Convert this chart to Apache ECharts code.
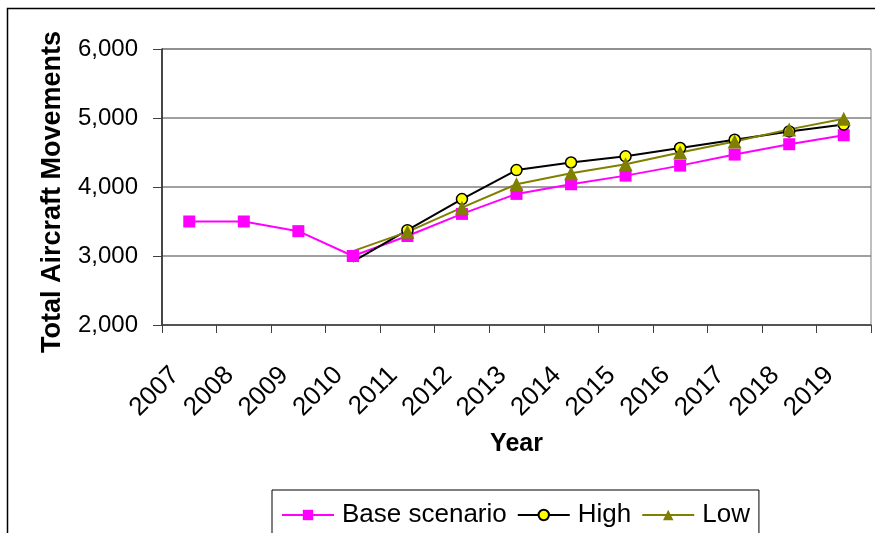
<!DOCTYPE html>
<html>
<head>
<meta charset="utf-8">
<script src="https://cdn.jsdelivr.net/npm/echarts@6/dist/echarts.min.js"></script>
<style>
  html, body { margin: 0; padding: 0; background: #ffffff; }
  #chart { width: 875px; height: 533px; }
</style>
</head>
<body>
<div id="chart"></div>
<script>
// Forecast of total aircraft movements per year
const years = ['2007', '2008', '2009', '2010', '2011', '2012', '2013',
               '2014', '2015', '2016', '2017', '2018', '2019'];
const baseScenario = [3500, 3500, 3360, 3000, 3290, 3610, 3900, 4040, 4165, 4310, 4470, 4620, 4750];
const highScenario = ['-', '-', '-', 2920, 3375, 3825, 4245, 4355, 4445, 4565, 4685, 4805, 4905];
const lowScenario  = ['-', '-', '-', 3070, 3350, 3700, 4040, 4200, 4330, 4500, 4660, 4835, 4990];
const yMin = 2000, yMax = 6000, yStep = 1000;

const FONT = "'Liberation Sans', Arial, sans-serif";

// The alternative scenarios branch off the base line; their first point has no marker
const branchIndex = highScenario.findIndex(v => v !== '-');
const withoutFirstMarker = arr => arr.map((v, i) => i === branchIndex ? { value: v, symbol: 'none' } : v);
// Base marker at the branch point is painted above the branching lines
const branchMarker = baseScenario.map((v, i) => i === branchIndex ? v : '-');

const fmt = v => String(v).replace(/\B(?=(\d{3})+(?!\d))/g, ',');

const chart = echarts.init(document.getElementById('chart'), null, { renderer: 'canvas' });

const baseStyle = {
  symbol: 'rect', symbolSize: 12,
  itemStyle: { color: '#FF00FF' },
  lineStyle: { color: '#FF00FF', width: 2 }
};

chart.setOption({
  animation: false,
  backgroundColor: '#ffffff',
  textStyle: { fontFamily: FONT },
  graphic: [{
    type: 'rect', z: -1, silent: true,
    shape: { x: 7.5, y: 8.5, width: 900, height: 600 },
    style: { fill: 'none', stroke: '#000000', lineWidth: 1.5 }
  }],
  grid: {
    left: 162, right: 4, top: 49, bottom: 208,
    show: true, borderColor: '#808080', borderWidth: 1, backgroundColor: 'transparent'
  },
  legend: {
    left: 272, top: 490,
    data: ['Base scenario', 'High', 'Low'],
    borderColor: '#000000', borderWidth: 1,
    padding: [12, 9, 20, 9],
    itemWidth: 52, itemHeight: 13, itemGap: 10,
    textStyle: { fontFamily: FONT, fontSize: 26, color: '#000000', padding: [0, 0, 0, 3] }
  },
  xAxis: {
    type: 'category',
    data: years,
    boundaryGap: true,
    name: 'Year',
    nameLocation: 'middle',
    nameGap: 107,
    nameTextStyle: { fontFamily: FONT, fontSize: 25, fontWeight: 'bold', color: '#000000' },
    axisLine: { lineStyle: { color: '#404040', width: 1.5 } },
    axisTick: { show: true, alignWithLabel: false, length: 8, lineStyle: { color: '#404040', width: 1 } },
    axisLabel: {
      rotate: 45, margin: 32, interval: 0, padding: [0, 20, 0, 0],
      fontFamily: FONT, fontSize: 26, color: '#000000'
    },
    splitLine: { show: false }
  },
  yAxis: {
    type: 'value',
    min: yMin, max: yMax, interval: yStep,
    name: 'Total Aircraft Movements',
    nameLocation: 'middle',
    nameGap: 96,
    nameTextStyle: { fontFamily: FONT, fontSize: 27, fontWeight: 'bold', color: '#000000', padding: [0, 10, 0, 0] },
    axisLine: { show: true, lineStyle: { color: '#202020', width: 1.5 } },
    axisTick: { show: true, length: 9, lineStyle: { color: '#404040', width: 1 } },
    axisLabel: {
      margin: 24, fontFamily: FONT, fontSize: 24, color: '#000000',
      formatter: fmt
    },
    splitLine: { show: true, lineStyle: { color: '#808080', width: 1.5 } }
  },
  series: [
    Object.assign({
      name: 'Base scenario', type: 'line',
      data: baseScenario, showAllSymbol: true, z: 2
    }, baseStyle),
    {
      name: 'High', type: 'line',
      data: withoutFirstMarker(highScenario), showAllSymbol: true, z: 2,
      symbol: 'circle', symbolSize: 11,
      itemStyle: { color: '#FFFF00', borderColor: '#000000', borderWidth: 1.5 },
      lineStyle: { color: '#000000', width: 2 }
    },
    {
      name: 'Low', type: 'line',
      data: withoutFirstMarker(lowScenario), showAllSymbol: true, z: 2,
      symbol: 'triangle', symbolSize: 14,
      itemStyle: { color: '#808000' },
      lineStyle: { color: '#808000', width: 2 }
    },
    Object.assign({
      name: 'Base scenario', type: 'line',
      data: branchMarker, showAllSymbol: true, z: 3
    }, baseStyle)
  ]
});
</script>
</body>
</html>
